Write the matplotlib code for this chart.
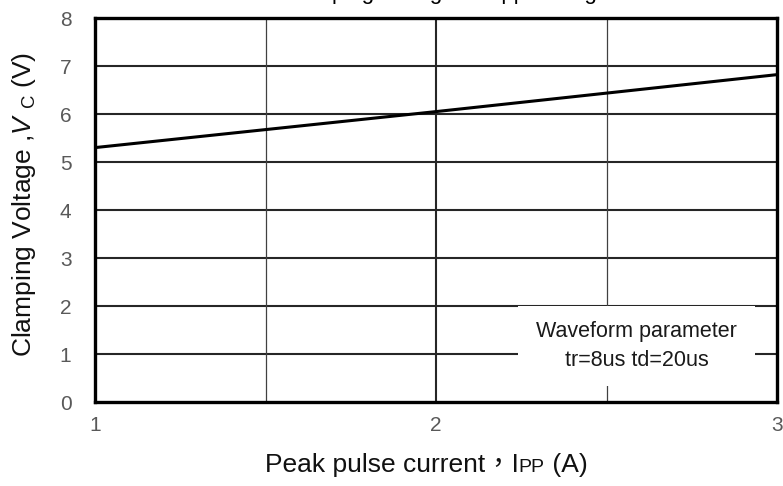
import matplotlib
matplotlib.use("Agg")
import matplotlib.pyplot as plt

plt.rcParams['font.family'] = ['Liberation Sans', 'Noto Sans CJK TC']
plt.rcParams['mathtext.fontset'] = 'custom'
plt.rcParams['mathtext.rm'] = 'Liberation Sans'
plt.rcParams['mathtext.it'] = 'Liberation Sans:italic'

# ── data ─────────────────────────────────────────────────────────────────────
ipp = [1.0, 2.0, 3.0]          # peak pulse current (A)
vc = [5.30, 6.05, 6.82]        # clamping voltage (V)
x_ticks = [1, 2, 3]
y_ticks = [0, 1, 2, 3, 4, 5, 6, 7, 8]

# ── figure ───────────────────────────────────────────────────────────────────
W, H = 783, 486
fig = plt.figure(figsize=(W / 100, H / 100), dpi=100)
ax = fig.add_axes([95 / W, 1 - 402 / H, (777 - 95) / W, (402 - 18) / H])

ax.set_xlim(1, 3)
ax.set_ylim(0, 8)

# grid: horizontal every 1 V, vertical at 1.5 / 2 / 2.5
for y in y_ticks[1:-1]:
    ax.axhline(y, color="#262626", lw=1.5, zorder=1)
ax.axvline(1.5, color="#404040", lw=0.9, zorder=1)
ax.axvline(2.0, color="#262626", lw=1.5, zorder=1)
ax.axvline(2.5, color="#404040", lw=0.9, zorder=1)

ax.plot(ipp, vc, color="black", lw=2.2, zorder=4)

# white note box covering the grid
ax.add_patch(plt.Rectangle((518, H - 386), 237, 80, transform=None,
                           facecolor="white", edgecolor="none", zorder=3))
ax.text((518 + 755) / 2 / W, 1 - 332 / H, "Waveform parameter",
        transform=fig.transFigure, ha="center", va="center",
        fontsize=15.5, color="#1a1a1a", zorder=5)
ax.text((518 + 755) / 2 / W, 1 - 360 / H, "tr=8us td=20us",
        transform=fig.transFigure, ha="center", va="center",
        fontsize=15.5, color="#1a1a1a", zorder=5)

for s in ax.spines.values():
    s.set_linewidth(2.4)
    s.set_color("black")
    s.set_zorder(6)

ax.set_xticks(x_ticks)
ax.set_yticks(y_ticks)
ax.tick_params(length=0, labelsize=15, labelcolor="#595959")
ax.tick_params(axis="y", pad=17)
ax.tick_params(axis="x", pad=10)

# y label placed in pixels (center x ~24, center y ~205)
fig.text(24 / W, 1 - 205 / H,
         r"Clamping Voltage ,$\mathit{V}$ $_{\mathrm{C}}$ (V)",
         rotation=90, ha="center", va="center", fontsize=19, color="#111111")

# x label built from pieces so that "PP" is smaller
fig.canvas.draw()
r = fig.canvas.get_renderer()
pieces = [("Peak pulse current，I", 19), ("PP", 14), (" (A)", 19)]
x0 = 265
for txt, fs in pieces:
    t = fig.text(x0 / W, 1 - 472 / H, txt, fontsize=fs, ha="left",
                 va="baseline", color="#111111")
    x0 += t.get_window_extent(r).width

# cropped title (only the descenders fall inside the canvas)
fig.text(0.56, 1 + 1.5 / H, "Clamping Voltage vs. Ipp Rating",
         ha="center", va="baseline", fontsize=16, color="black")

fig.savefig("out.png", dpi=100)
